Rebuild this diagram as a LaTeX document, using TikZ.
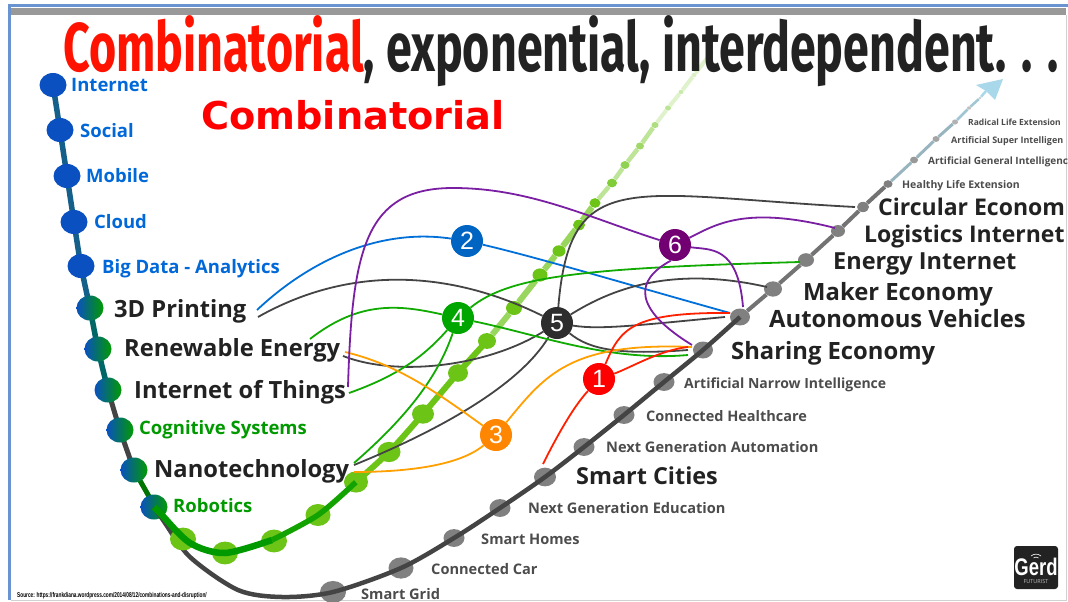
\documentclass[tikz,border=0pt]{standalone}
\usepackage{fontspec}
\setsansfont{Open Sans}
\newfontfamily\titlefont[FakeStretch=0.675]{Fira Sans}
\newfontfamily\subtitlefont{DejaVu Sans}
\newfontfamily\hubfont{Liberation Sans}
\newfontfamily\sourcefont[FakeStretch=0.68]{Liberation Sans}
\newfontfamily\logofont[FakeStretch=0.77]{Liberation Sans}
\usetikzlibrary{positioning,shapes.geometric,backgrounds}

\definecolor{framecolor}{HTML}{6A94CF}
\definecolor{stemblue}{HTML}{0A50C0}
\definecolor{stemtop}{HTML}{14608A}
\definecolor{stemgreen}{HTML}{009A00}
\definecolor{dotgreen}{HTML}{6CC417}
\definecolor{dotgray}{HTML}{808080}
\definecolor{inkdark}{HTML}{222222}
\definecolor{tagblue}{HTML}{0068D8}
\definecolor{arrowblue}{HTML}{A8D8EA}
\definecolor{linkblue}{HTML}{0070D8}
\definecolor{linkgreen}{HTML}{10AA00}
\definecolor{linkorange}{HTML}{FFA000}
\definecolor{linkred}{HTML}{FF2000}
\definecolor{linkpurple}{HTML}{7A1FA2}
\definecolor{linkgray}{HTML}{444444}

\tikzset{
  bluedot/.style={ellipse,inner sep=0pt,minimum width=27pt,minimum height=24pt,fill=stemblue},
  mixdot/.style={ellipse,inner sep=0pt,minimum width=27pt,minimum height=25pt,left color=stemblue,right color=stemgreen,middle color=stemblue!50!stemgreen},
  greendot/.style={ellipse,inner sep=0pt,minimum width=#1,minimum height=.88*#1,fill=dotgreen},
  graydot/.style={ellipse,inner sep=0pt,minimum width=#1,minimum height=.85*#1,fill=dotgray},
  hub/.style={circle,inner sep=0pt,minimum size=32pt,text=white,font=\hubfont\fontsize{25}{25}\selectfont},
  tag/.style={anchor=base west,inner sep=0pt,font=\sffamily\bfseries\fontsize{#1}{#1}\selectfont},
  link/.style={line width=1.8pt},
}

\begin{document}
\begin{tikzpicture}[x=1pt,y=-1pt]
\useasboundingbox (0,0) rectangle (1068,602);

\begin{pgfonlayer}{background}
% slide frame
\fill[white] (0,0) rectangle (1068,602);
\fill[black!40] (10,8) rectangle (1066,15);
\draw[color=framecolor,line width=3pt] (9.5,600) -- (9.5,6) -- (1068,6);
\draw[black!18,line width=1pt] (11,600.5) -- (1066.5,600.5) -- (1066.5,15);

% left stem
\draw[color=stemtop,line width=5.5pt] plot[smooth] coordinates {(53,85) (60,130) (67,176) (74,222) (81,266) (90,308)};
\draw[color=teal!80!black,line width=5.5pt] plot[smooth] coordinates {(90,308) (98,349) (108,390)};
\draw[color=linkgray,line width=5pt] plot[smooth] coordinates {(108,390) (120,430) (134,470)};
\draw[color=green!45!black,line width=5pt] plot[smooth] coordinates {(134,470) (155,507)};
\end{pgfonlayer}

\node[bluedot] (internet) at (53,85) {};
\node[bluedot] (social) at (60,130) {};
\node[bluedot] (mobile) at (67,176) {};
\node[bluedot] (cloud) at (74,222) {};
\node[bluedot] (bigdata) at (81,266) {};
\node[mixdot] (printing) at (90,308) {};
\node[mixdot] (renewable) at (98,349) {};
\node[mixdot] (iot) at (108,390) {};
\node[mixdot] (cognitive) at (120,430) {};
\node[mixdot] (nano) at (134,470) {};
\node[mixdot] (robotics) at (154,507) {};

% lower curve
\node[graydot=26pt] (grid) at (333,592) {};
\node[graydot=25pt] (car) at (401,568) {};
\node[graydot=21pt] (homes) at (454,538) {};
\node[graydot=21pt] (education) at (500,508) {};
\node[graydot=22pt] (cities) at (545,477) {};
\node[graydot=21pt] (automation) at (584,447) {};
\node[graydot=21pt] (healthcare) at (624,415) {};
\node[graydot=21pt] (narrow) at (664,382) {};
\node[graydot=20pt] (sharing) at (703,350) {};
\node[graydot=20pt] (vehicles) at (740,317) {};
\node[graydot=18pt] (maker) at (773,289) {};
\node[graydot=16pt] (energy) at (806,260) {};
\node[graydot=14pt] (logistics) at (838,231) {};
\node[graydot=12pt] (circular) at (863,207) {};
\node[graydot=9pt] (healthy) at (888,184) {};
\node[graydot=8pt,opacity=.8] (general) at (914,160) {};
\node[graydot=7pt,opacity=.7] (super) at (936,139) {};
\node[graydot=6pt,opacity=.6] (radical) at (955,122) {};
\node[graydot=4pt,opacity=.5] (fadeA) at (969,108) {};
\node[graydot=3pt,opacity=.4] (fadeB) at (980,98) {};

\draw[color=linkgray,line width=4.5pt] plot[smooth] coordinates {(robotics) (163,520) (190,557) (238,590) (282,597) (grid) (car) (homes) (education) (cities) (automation) (healthcare) (narrow) (sharing) (vehicles)};
\draw[color=black!55,line width=4pt] (vehicles) -- (maker) -- (energy) -- (logistics) -- (circular) -- (healthy);
\draw[color=arrowblue!60!gray,line width=3pt] (healthy) -- (general) -- (super) -- (radical);
\draw[color=arrowblue!80!gray,line width=2.5pt] (radical) -- (fadeA) -- (fadeB);
\coordinate (tip) at (1003,79);
\coordinate (barbA) at (976,85);
\coordinate (barbB) at (995,100);
\coordinate (barbMid) at (986,91);
\fill[color=arrowblue] (tip) -- (barbA) -- (barbMid) -- (barbB) -- cycle;
\draw[color=arrowblue,line width=2.5pt] (fadeB) -- (barbMid);

% upper curve
\node[greendot=26pt] (g1) at (183,539) {};
\node[greendot=26pt] (g2) at (225,553) {};
\node[greendot=26pt] (g3) at (274,541) {};
\node[greendot=25pt] (g4) at (318,515) {};
\node[greendot=24pt] (g5) at (356,482) {};
\node[greendot=23pt] (g6) at (389,452) {};
\node[greendot=22pt] (g7) at (423,414) {};
\node[greendot=20pt] (g8) at (458,373) {};
\node[greendot=18pt] (g9) at (487,341) {};
\node[greendot=16pt] (g10) at (514,308) {};
\node[greendot=15pt] (g11) at (540,275) {};
\node[greendot=13pt] (g12) at (559,251) {};
\node[greendot=12pt] (g13) at (579,225) {};
\node[greendot=11pt] (g14) at (595,203) {};
\node[greendot=10pt,opacity=.85] (g15) at (612,183) {};
\node[greendot=9pt,opacity=.75] (g16) at (625,165) {};
\node[greendot=8pt,opacity=.65] (g17) at (640,146) {};
\node[greendot=7pt,opacity=.55] (g18) at (655,125) {};
\node[greendot=6pt,opacity=.45] (g19) at (668,108) {};
\node[greendot=5pt,opacity=.35] (g20) at (681,92) {};
\node[greendot=5pt,opacity=.25] (g21) at (694,75) {};
\coordinate (greenEnd) at (712,52);

\draw[color=stemgreen,line width=6.5pt] plot[smooth] coordinates {(robotics) (160,513) (190,543) (g2) (272,540)};
\draw[color=green!60!black!90!lime,line width=5.5pt] plot[smooth] coordinates {(272,540) (g4) (g5)};
\draw[color=dotgreen,line width=6pt] plot[smooth] coordinates {(g5) (g6) (g7) (g8) (g9)};
\draw[color=dotgreen!70,line width=6pt] (g9) -- (g10) -- (g11) -- (g12) -- (g13) -- (g14);
\draw[color=dotgreen!45,line width=4.5pt] (g14) -- (g15) -- (g16) -- (g17) -- (g18);
\draw[color=dotgreen!22,line width=4pt] (g18) -- (g19) -- (g20) -- (g21) -- (greenEnd);

% titles
\node[anchor=base west,inner sep=0pt,text depth=0pt,font=\titlefont\bfseries\fontsize{69}{69}\selectfont,text=inkdark] (title) at (63,71.5) {\textcolor{red!85!orange}{Combinatorial}, exponential, interdependent. . .};
\node[anchor=base west,inner sep=0pt,font=\subtitlefont\bfseries\fontsize{38.3}{38.3}\selectfont,text=red] (subtitle) at (201,129) {Combinatorial};

% labels
\node[tag=18.5,text=tagblue] (internetT) at (71,92) {Internet};
\node[tag=18.5,text=tagblue] (socialT) at (80,137) {Social};
\node[tag=18.5,text=tagblue] (mobileT) at (86,182) {Mobile};
\node[tag=18.5,text=tagblue] (cloudT) at (94,228) {Cloud};
\node[tag=18.5,text=tagblue] (bigdataT) at (102,273) {Big Data - Analytics};
\node[tag=23.7,text=inkdark] (printingT) at (114,317) {3D Printing};
\node[tag=23.7,text=inkdark] (renewableT) at (124,356) {Renewable Energy};
\node[tag=23.7,text=inkdark] (iotT) at (134,398) {Internet of Things};
\node[tag=18.5,text=stemgreen] (cognitiveT) at (139,434) {Cognitive Systems};
\node[tag=23.7,text=inkdark] (nanoT) at (154,477) {Nanotechnology};
\node[tag=18.5,text=stemgreen] (roboticsT) at (173,512) {Robotics};
\node[tag=14.6,text=black!70] (gridT) at (361,599) {Smart Grid};
\node[tag=14.6,text=black!70] (carT) at (431,574) {Connected Car};
\node[tag=14.6,text=black!70] (homesT) at (481,544) {Smart Homes};
\node[tag=14.6,text=black!70] (educationT) at (528,513) {Next Generation Education};
\node[tag=23.4,text=inkdark] (citiesT) at (576,484) {Smart Cities};
\node[tag=14.6,text=black!70] (automationT) at (606,452) {Next Generation Automation};
\node[tag=14.5,text=black!70] (healthcareT) at (646,421) {Connected Healthcare};
\node[tag=14,text=black!70] (narrowT) at (684,388) {Artificial Narrow Intelligence};
\node[tag=23.8,text=inkdark] (sharingT) at (731,359) {Sharing Economy};
\node[tag=23.8,text=inkdark] (vehiclesT) at (769,327) {Autonomous Vehicles};
\node[tag=23.8,text=inkdark] (makerT) at (803,300) {Maker Economy};
\node[tag=23.5,text=inkdark] (energyT) at (833,269) {Energy Internet};
\node[tag=23,text=inkdark] (logisticsT) at (864,242) {Logistics Internet};
\node[tag=23,text=inkdark] (circularT) at (878,215) {Circular Econom};
\node[tag=10.5,text=black!70] (healthyT) at (902,188) {Healthy Life Extension};
\node[tag=10,text=black!70] (generalT) at (928,164) {Artificial General Intelligenc};
\node[tag=9,text=black!70] (superT) at (951,143) {Artificial Super Intelligen};
\node[tag=8.5,text=black!70] (radicalT) at (968,125) {Radical Life Extension};
\node[anchor=base west,inner sep=0pt,font=\sourcefont\bfseries\fontsize{7}{7}\selectfont] (source) at (17,597) {Source: https://frankdiana.wordpress.com/2014/08/12/combinations-and-disruption/};

% logo
\node[fill=inkdark,rounded corners=3pt,minimum width=44pt,minimum height=43pt] (logo) at (1036,567.5) {};
\node[anchor=base,inner sep=0pt,text depth=0pt,text=white,font=\logofont\bfseries\fontsize{24}{24}\selectfont] (logoName) at (1036,575) {Gerd};
\node[anchor=base,inner sep=0pt,text=black!25,font=\sffamily\fontsize{5.5}{5.5}\selectfont] (logoSub) at (1036,583) {FUTURIST};
\draw[white,line width=.6pt] (1031,556) to[bend left=40] (1041,556);
\draw[white,line width=.6pt] (1033.5,558) to[bend left=40] (1038.5,558);

% hubs
\node[hub,fill=red] (hub1) at (599,379) {1};
\node[hub,fill=linkblue!90!black] (hub2) at (467,241) {2};
\node[hub,fill=orange!95!yellow] (hub3) at (496,435) {3};
\node[hub,fill=green!65!black] (hub4) at (458,318) {4};
\node[hub,fill=inkdark!95!white] (hub5) at (557,323) {5};
\node[hub,fill=violet!90!black] (hub6) at (675,245) {6};

% free ends
\coordinate (printingA) at (257,310);
\coordinate (printingB) at (258,317);
\coordinate (renewableA) at (310,339);
\coordinate (renewableB) at (343,356);
\coordinate (renewableC) at (345,352);
\coordinate (iotA) at (349,393);
\coordinate (iotB) at (348,387);
\coordinate (nanoA) at (354,463);
\coordinate (nanoB) at (354,465);
\coordinate (nanoC) at (354,472);
\coordinate (citiesA) at (543,464);
\coordinate (sharingA) at (688,350);
\coordinate (sharingB) at (688,355);
\coordinate (sharingC) at (692,347);
\coordinate (sharingD) at (688,347);
\coordinate (sharingE) at (692,345);
\coordinate (vehiclesA) at (730,313);
\coordinate (vehiclesB) at (725,317);
\coordinate (vehiclesC) at (743,307);
\coordinate (makerA) at (767,287);
\coordinate (energyA) at (800,262);
\coordinate (logisticsA) at (835,228);
\coordinate (circularA) at (855,207);
\coordinate (archTop) at (453,188);

\draw[link,linkblue] (printingA) .. controls (310,260) and (380,228) .. (hub2);
\draw[link,linkblue] (hub2) .. controls (540,258) and (640,288) .. (vehiclesA);

\draw[link,linkgray] (printingB) .. controls (350,265) and (450,270) .. (hub5);
\draw[link,linkgray] (hub5) .. controls (610,290) and (670,265) .. (makerA);
\draw[link,linkgray] (hub5) .. controls (570,165) and (630,195) .. (circularA);
\draw[link,linkgray] (hub5) .. controls (600,330) and (640,325) .. (vehiclesB);
\draw[link,linkgray] (hub5) .. controls (590,350) and (620,355) .. (sharingA);
\draw[link,linkgray] (renewableB) .. controls (400,378) and (490,365) .. (hub5);
\draw[link,linkgray] (nanoB) .. controls (440,430) and (520,385) .. (hub5);

\draw[link,linkgreen] (renewableA) .. controls (360,300) and (400,305) .. (hub4);
\draw[link,linkgreen] (iotA) .. controls (400,375) and (425,355) .. (hub4);
\draw[link,linkgreen] (nanoA) .. controls (415,410) and (440,370) .. (hub4);
\draw[link,linkgreen] (hub4) .. controls (510,275) and (590,268) .. (energyA);
\draw[link,linkgreen] (hub4) .. controls (540,335) and (610,362) .. (sharingB);

\draw[link,linkorange] (renewableC) .. controls (400,365) and (440,395) .. (hub3);
\draw[link,linkorange] (nanoC) .. controls (410,472) and (460,465) .. (hub3);
\draw[link,linkorange] (hub3) .. controls (545,375) and (570,342) .. (sharingC);

\draw[link,linkred] (citiesA) .. controls (560,430) and (575,405) .. (hub1);
\draw[link,linkred] (hub1) .. controls (620,330) and (630,312) .. (vehiclesA);
\draw[link,linkred] (hub1) .. controls (630,368) and (660,350) .. (sharingD);

\draw[link,linkpurple] (iotB) .. controls (352,250) and (365,188) .. (archTop) .. controls (530,188) and (590,218) .. (hub6);
\draw[link,linkpurple] (hub6) .. controls (715,225) and (745,205) .. (logisticsA);
\draw[link,linkpurple] (hub6) .. controls (710,250) and (738,245) .. (vehiclesC);
\draw[link,linkpurple] (hub6.255) .. controls (635,280) and (632,308) .. (sharingE);
\end{tikzpicture}
\end{document}
